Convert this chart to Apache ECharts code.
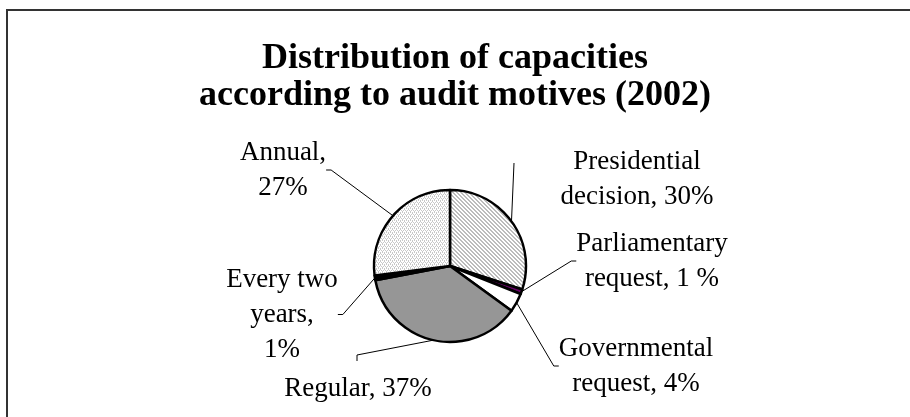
<!DOCTYPE html>
<html>
<head>
<meta charset="utf-8">
<script src="https://cdn.jsdelivr.net/npm/echarts@6/dist/echarts.min.js"></script>
<style>
html,body{margin:0;padding:0;background:#fff;}
#chart{width:910px;height:417px;}
</style>
</head>
<body>
<div id="chart"></div>
<script>
// Data
const categories = ['Presidential decision', 'Parliamentary request', 'Governmental request', 'Regular', 'Every two years', 'Annual'];
const values = [30, 1, 4, 37, 1, 27];
const labelTexts = ['Presidential\ndecision, 30%', 'Parliamentary\nrequest, 1 %', 'Governmental\nrequest, 4%', 'Regular, 37%', 'Every two\nyears,\n1%', 'Annual,\n27%'];

// Label placement (center x, top y)
const labelPos = [[637, 144], [652, 226], [636, 331], [358, 371], [282, 262], [283, 135]];
// Leader line bends for labels whose Excel-style leader is not the automatic one
const leaderBends = { 0: [[514, 163]], 3: [[357, 355], [357, 361]] };

function makePattern(kind) {
  const c = document.createElement('canvas');
  c.width = 4; c.height = 4;
  const g = c.getContext('2d');
  g.fillStyle = '#ffffff';
  g.fillRect(0, 0, 4, 4);
  g.fillStyle = '#bcbcbc';
  if (kind === 'diag') {
    for (let i = 0; i < 4; i++) { g.fillRect(i, i, 1, 1); g.fillRect((i + 1) % 4, i, 1, 1); }
  } else {
    g.fillStyle = '#c8c8c8';
    g.fillRect(0, 0, 1, 1); g.fillRect(2, 0, 1, 1); g.fillRect(1, 2, 1, 1); g.fillRect(3, 2, 1, 1);
    g.fillRect(0, 1, 1, 1); g.fillRect(2, 3, 1, 1);
  }
  return { image: c, repeat: 'repeat' };
}

const sliceColors = [makePattern('diag'), '#660066', '#ffffff', '#969696', '#000000', makePattern('dots')];

const chart = echarts.init(document.getElementById('chart'), null, { renderer: 'canvas' });
chart.setOption({
  animation: false,
  backgroundColor: '#ffffff',
  title: {
    text: 'Distribution of capacities\naccording to audit motives (2002)',
    left: 'center',
    top: 35,
    textStyle: { fontFamily: 'Liberation Serif', fontWeight: 'bold', fontSize: 36, lineHeight: 37, color: '#000' }
  },
  graphic: [{
    type: 'rect', shape: { x: 7, y: 10, width: 1000, height: 500 },
    style: { fill: 'none', stroke: '#333333', lineWidth: 2 }, silent: true
  }],
  series: [{
    type: 'pie',
    center: [450, 266],
    radius: 76,
    startAngle: 90,
    clockwise: true,
    avoidLabelOverlap: false,
    data: categories.map((n, i) => ({ name: n, value: values[i], itemStyle: { color: sliceColors[i] } })),
    itemStyle: { borderColor: '#000', borderWidth: 2.5 },
    label: {
      show: true,
      formatter: (p) => labelTexts[p.dataIndex],
      fontFamily: 'Liberation Serif',
      fontSize: 27,
      lineHeight: 35,
      color: '#000',
      align: 'center'
    },
    labelLine: { show: true, lineStyle: { color: '#000', width: 1 }, length: 20, length2: 5 },
    labelLayout: function (params) {
      const i = params.dataIndex;
      const p = labelPos[i];
      const out = { x: p[0], y: p[1], align: 'center', verticalAlign: 'top' };
      if (leaderBends[i] && params.labelLinePoints && params.labelLinePoints.length) {
        out.labelLinePoints = [params.labelLinePoints[0].slice()].concat(leaderBends[i]);
      }
      return out;
    },
    emphasis: { disabled: true }
  }]
});
</script>
</body>
</html>
